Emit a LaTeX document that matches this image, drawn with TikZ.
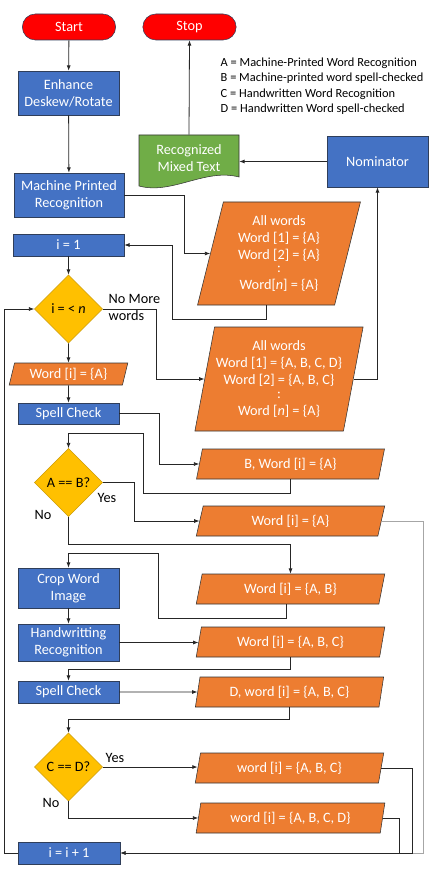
\documentclass[tikz,border=0pt]{standalone}
\usepackage{fontspec}
\setmainfont{Carlito}
\usetikzlibrary{shapes.geometric,shapes.misc,arrows.meta}
\definecolor{boxblue}{RGB}{68,114,196}
\definecolor{boxline}{RGB}{47,62,90}
\definecolor{ioorange}{RGB}{237,125,49}
\definecolor{decyellow}{RGB}{255,192,0}
\definecolor{docgreen}{RGB}{112,173,71}
\definecolor{termred}{RGB}{255,0,0}

\begin{document}
\begin{tikzpicture}[x=0.75pt,y=-0.75pt,
  font=\fontsize{10.7}{12.8}\selectfont,
  term/.style={rounded rectangle,fill=termred,draw=boxline,text=white,minimum width=72pt,minimum height=19.5pt,inner sep=1pt},
  proc/.style={rectangle,fill=boxblue,draw=boxline,text=white,align=center,minimum width=75.75pt,inner sep=1pt},
  io/.style={trapezium,trapezium left angle=78,trapezium right angle=102,trapezium stretches=true,fill=ioorange,draw=black!80,text=white,align=center,minimum width=141.75pt,minimum height=22.5pt,inner sep=1pt},
  dec/.style={diamond,fill=decyellow,draw=decyellow!80!black,minimum width=51pt,minimum height=51pt,inner sep=0pt},
  arr/.style={draw=black!85,line width=0.6pt,-{Latex[length=4pt,width=3pt]}},
  lin/.style={draw=black!85,line width=0.6pt}]
\useasboundingbox (0,0) rectangle (436,873);

% top row
\node[term] (start) at (69,27) {Start};
\node[term] (stop) at (189.5,27) {Stop};
\node[anchor=west,align=left,font=\fontsize{9.3}{11.6}\selectfont] (key) at (216,86)
  {A = Machine-Printed Word Recognition\\B = Machine-printed word spell-checked\\C = Handwritten Word Recognition\\D = Handwritten Word spell-checked};

\node[proc,minimum height=33pt] (enh) at (68.5,93) {Enhance\\Deskew/Rotate};
\node[proc,minimum width=82.5pt,minimum height=33pt] (mpr) at (69,195) {Machine Printed\\Recognition};

% output document, wavy bottom
\filldraw[fill=docgreen,draw=black!80] (139,135) -- (239,135) -- (239,177)
  .. controls (205,168) and (172,195) .. (139,186) -- cycle;
\node[align=center,text=white,minimum width=75pt,minimum height=34.5pt,inner sep=0pt] (doc) at (189,158) {Recognized\\Mixed Text};
\node[proc,minimum height=38.25pt] (nom) at (377.5,161.5) {Nominator};

% word lists
\node[io,trapezium left angle=76,trapezium right angle=104,minimum width=123pt,minimum height=77.25pt] (p1) at (279,253.5)
  {All words\\Word [1] = \{A\}\\Word [2] = \{A\}\\[-3pt]:\\Word[\textit{n}] = \{A\}};
\node[io,trapezium left angle=76,trapezium right angle=104,minimum width=123pt,minimum height=78pt] (p2) at (279,379)
  {All words\\Word [1] = \{A, B, C, D\}\\Word [2] = \{A, B, C\}\\[-3pt]:\\Word [\textit{n}] = \{A\}};

% main loop
\node[proc,minimum width=83.25pt,minimum height=16.5pt] (ione) at (68.5,245) {i = 1};
\node[dec] (d1) at (68.5,309) {i = < \textit{n}};
\node[anchor=west,align=left] (nomore) at (104,307.5) {No More\\words};
\node[io,trapezium left angle=75,trapezium right angle=105,minimum width=89.25pt,minimum height=16.5pt] (wa) at (68.5,374) {Word [i] = \{A\}};
\node[proc,minimum height=15.75pt] (sc1) at (68.5,413.5) {Spell Check};
\node[io] (pb) at (290.5,464) {B, Word [i] = \{A\}};
\node[dec] (d2) at (68.5,482.5) {A == B?};
\node (yes1) at (107,498) {Yes};
\node (no1) at (43,515) {No};
\node[io] (pwa) at (290.5,521) {Word [i] = \{A\}};
\node[io] (pab) at (290.5,589) {Word [i] = \{A, B\}};
\node[proc,minimum height=30pt] (crop) at (68.5,588) {Crop Word\\Image};
\node[proc,minimum height=27.75pt] (hw) at (68.5,642.5) {Handwritting\\Recognition};
\node[io] (pabc) at (290.5,642) {Word [i] = \{A, B, C\}};
\node[proc,minimum height=16.5pt] (sc2) at (68.5,692) {Spell Check};
\node[io] (pd) at (289.5,692) {D, word [i] = \{A, B, C\}};
\node[dec] (d3) at (68.5,767) {C == D?};
\node (yes2) at (115,758) {Yes};
\node (no2) at (51,803) {No};
\node[io] (pyes) at (289.5,768) {word [i] = \{A, B, C\}};
\node[io] (pno) at (290.5,818) {word [i] = \{A, B, C, D\}};
\node[proc,minimum width=76.5pt,minimum height=16.5pt] (inc) at (69,853) {i = i + 1};

% connectors
\path[arr] (start) -- (enh);
\path[arr] (enh) -- (mpr);
\path[arr] (mpr.east) -- ++(60,0) |- (p1.west);
\path[arr] ([xshift=-9.75pt]p1.south) -- ++(0,14) -| (172,245) -- (ione.east);
\path[arr] (ione) -- (d1);
\path[arr] (d1.east) -- (156,309) |- (p2.west);
\path[arr] (p2.east) -| (nom.south);
\path[arr] (nom.west) -- (nom.west -| doc.east);
\path[arr] (doc.north) -- (stop.south);
\path[arr] (d1) -- (wa);
\path[arr] (wa) -- (sc1);
\path[arr] (sc1.east) -- ++(40,0) |- (pb.west);
\path[arr] (pb.south) -- ++(0,14) -| (143,433) -| (d2.north);
\path[arr] (d2.east) -- ++(32,0) |- (pwa.west);
\path[arr] (d2.south) -- ++(0,28) -| (pab.north);
\path[arr] ([xshift=-3pt]pab.south) -- ++(0,14) -| (158,553) -| (crop.north);
\path[arr] (crop) -- (hw);
\path[arr] (hw.east) -- (hw.east -| pabc.west);
\path[arr] (pabc.south) -- ++(0,12) -| (sc2.north);
\path[arr] (sc2.east) -- (pd.west);
\path[arr] (pd.south) -- ++(0,12) -| (d3.north);
\path[arr] (d3.east) -- (d3.east -| pyes.west);
\path[arr] (d3.south) |- (pno.west);
\path[arr,draw=black!35] (pwa.east) -| (423,853) -- (inc.east);
\path[arr] (pyes.east) -| (412,853) -- (inc.east);
\path[lin] (pno.east) -| (399,853);
\path[arr] (inc.west) -- (4,853) |- (d1.west);
\end{tikzpicture}
\end{document}
